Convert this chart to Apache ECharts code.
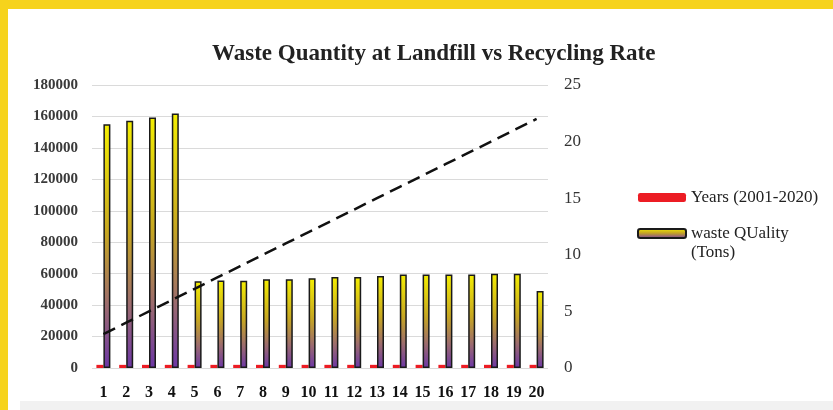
<!DOCTYPE html>
<html>
<head>
<meta charset="utf-8">
<script src="https://cdn.jsdelivr.net/npm/echarts@6/dist/echarts.min.js"></script>
<style>
  html, body { margin: 0; padding: 0; background: #fff; }
  #chart { width: 833px; height: 410px; }
</style>
</head>
<body>
<div id="chart"></div>
<script>
  // data
  var categories = ['1', '2', '3', '4', '5', '6', '7', '8', '9', '10',
    '11', '12', '13', '14', '15', '16', '17', '18', '19', '20'];
  var years = [2001, 2002, 2003, 2004, 2005, 2006, 2007, 2008, 2009, 2010,
    2011, 2012, 2013, 2014, 2015, 2016, 2017, 2018, 2019, 2020];
  var wasteTons = [155100, 157200, 159400, 161900, 55100, 55700, 55500, 56400, 56400, 57100,
    57900, 57900, 58500, 59400, 59400, 59400, 59400, 60000, 60000, 49000];
  var recyclingTrend = [3.0, 4.0, 5.0, 6.0, 7.0, 8.0, 9.0, 10.0, 11.0, 12.0,
    13.0, 14.0, 15.0, 16.0, 17.0, 18.0, 19.0, 20.0, 21.0, 22.0];

  var serif = '"Liberation Serif", "DejaVu Serif", serif';

  var chart = echarts.init(document.getElementById('chart'));

  var barGradient = new echarts.graphic.LinearGradient(0, 0, 0, 1, [
    { offset: 0, color: '#f4ee02' },
    { offset: 0.45, color: '#c6a622' },
    { offset: 0.75, color: '#9b6a70' },
    { offset: 1, color: '#6c36a6' }
  ]);

  chart.setOption({
    backgroundColor: '#fff',
    animation: false,
    title: {
      text: 'Waste Quantity at Landfill vs Recycling Rate',
      left: 207,
      top: 38,
      textStyle: { fontFamily: serif, fontWeight: 'bold', fontSize: 23, color: '#222' }
    },
    graphic: [
      { type: 'rect', left: 0, top: 0, shape: { width: 833, height: 9 }, style: { fill: '#f6d31c' } },
      { type: 'rect', left: 0, top: 0, shape: { width: 8, height: 410 }, style: { fill: '#f6d31c' } },
      { type: 'rect', left: 20, top: 401, shape: { width: 813, height: 9 }, style: { fill: '#f1f1f1' } },
      {
        type: 'text', left: 691, top: 244,
        style: { text: '(Tons)', font: '17px ' + serif, fill: '#222' }
      }
    ],
    legend: {
      orient: 'vertical',
      left: 632,
      top: 184,
      itemWidth: 48,
      itemHeight: 9,
      itemGap: 19,
      data: ['Years (2001-2020)', 'waste QUality'],
      textStyle: { fontFamily: serif, fontSize: 17, color: '#222' }
    },
    grid: { left: 92, right: 285, top: 85, bottom: 42 },
    xAxis: {
      type: 'category',
      data: categories,
      axisLine: { show: false },
      axisTick: { show: false },
      axisLabel: { fontFamily: serif, fontWeight: 'bold', fontSize: 16, color: '#111', margin: 17, interval: 0 }
    },
    yAxis: [
      {
        type: 'value',
        min: 0,
        max: 180000,
        interval: 20000,
        axisLine: { show: false },
        axisTick: { show: false },
        splitLine: { lineStyle: { color: '#dadada', width: 1 } },
        axisLabel: {
          fontFamily: serif, fontWeight: 'bold', fontSize: 15, color: '#3a3a3a', margin: 14,
          padding: [8, 0, 0, 0],
          formatter: function (v) { return String(v); }
        }
      },
      {
        type: 'value',
        min: 0,
        max: 25,
        interval: 5,
        position: 'right',
        axisLine: { show: false },
        axisTick: { show: false },
        splitLine: { show: false },
        axisLabel: { fontFamily: serif, fontSize: 17, color: '#333', margin: 16, padding: [6, 0, 0, 0] }
      }
    ],
    series: [
      {
        name: 'Years (2001-2020)',
        type: 'bar',
        data: years,
        barWidth: 7,
        barGap: '0%',
        itemStyle: { color: '#ec1c24' }
      },
      {
        name: 'waste QUality',
        type: 'bar',
        data: wasteTons,
        barWidth: 7,
        itemStyle: { color: barGradient, borderColor: '#1a1a1a', borderWidth: 1.5 }
      },
      {
        name: 'Recycling trend',
        type: 'line',
        yAxisIndex: 1,
        data: recyclingTrend,
        showSymbol: false,
        symbol: 'none',
        lineStyle: { color: '#111', width: 2.5, type: [13, 7] },
        z: 5
      }
    ]
  });
</script>
</body>
</html>
